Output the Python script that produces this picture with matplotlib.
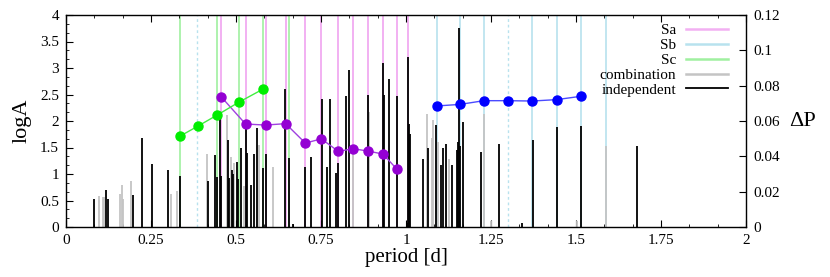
import numpy as np
import matplotlib
matplotlib.use('Agg')
import matplotlib.pyplot as plt
from matplotlib.ticker import MultipleLocator

plt.rcParams['font.family'] = ['Liberation Serif', 'DejaVu Serif']
plt.rcParams['mathtext.fontset'] = 'stix'

# independent frequencies: period [d], logA
ind_period = [0.081, 0.117, 0.124, 0.197, 0.223, 0.253, 0.299, 0.336, 0.417, 0.438,
              0.443, 0.454, 0.457, 0.477, 0.479, 0.487, 0.490, 0.504, 0.507, 0.515,
              0.528, 0.531, 0.544, 0.553, 0.562, 0.578, 0.588, 0.645, 0.657, 0.669,
              0.704, 0.720, 0.752, 0.769, 0.776, 0.794, 0.801, 0.824, 0.833, 0.889,
              0.931, 0.934, 0.950, 0.973, 1.002, 1.006, 1.010, 1.013, 1.051, 1.066,
              1.088, 1.102, 1.110, 1.118, 1.135, 1.149, 1.152, 1.157, 1.160, 1.167,
              1.220, 1.273, 1.340, 1.373, 1.443, 1.515, 1.680]
ind_logA = [0.52, 0.70, 0.53, 0.60, 1.67, 1.19, 1.08, 0.97, 0.86, 1.35,
            0.95, 2.11, 0.96, 1.64, 0.92, 1.07, 1.00, 1.23, 0.90, 1.50,
            1.85, 1.40, 0.79, 1.38, 1.86, 1.11, 1.38, 2.60, 1.31, 0.05,
            1.14, 1.33, 2.42, 1.13, 2.41, 1.01, 1.20, 2.48, 2.96, 2.50,
            3.10, 2.50, 2.80, 2.47, 0.08, 3.21, 1.94, 1.75, 1.28, 1.50,
            1.92, 1.17, 1.50, 1.57, 1.17, 1.45, 1.61, 3.75, 1.52, 1.99,
            1.41, 1.56, 0.07, 1.65, 1.89, 1.91, 1.52]

# combination frequencies
comb_period = [0.096, 0.108, 0.112, 0.160, 0.164, 0.168, 0.190, 0.309, 0.326, 0.414,
               0.473, 0.485, 0.495, 0.523, 0.568, 0.610, 0.845, 0.892, 1.061, 1.075,
               1.080, 1.093, 1.125, 1.229, 1.250, 1.502, 1.588]
comb_logA = [0.58, 0.56, 0.56, 0.62, 0.79, 0.52, 0.87, 0.62, 0.68, 1.38,
             2.11, 1.33, 1.20, 0.78, 1.55, 1.14, 1.50, 2.17, 2.13, 1.67,
             2.02, 1.60, 1.28, 2.14, 0.12, 0.12, 1.53]

# period spacing sequences: period [d], dP [d]
sa_period = [0.456, 0.528, 0.587, 0.646, 0.704, 0.751, 0.801, 0.844, 0.888, 0.932, 0.973]
sa_dp = [0.0738, 0.0583, 0.0577, 0.0585, 0.0475, 0.0499, 0.0428, 0.0443, 0.0430, 0.0413, 0.0328]
sa_lines = [0.456, 0.528, 0.587, 0.646, 0.704, 0.751, 0.801, 0.844, 0.888, 0.932, 0.973, 1.006]

sb_period = [1.090, 1.159, 1.229, 1.301, 1.371, 1.443, 1.515]
sb_dp = [0.0685, 0.0694, 0.0715, 0.0715, 0.0713, 0.0721, 0.0740]
sb_lines = [1.090, 1.159, 1.229, 1.371, 1.443, 1.515, 1.587]
sb_dashed = [0.386, 1.301]

sc_period = [0.336, 0.387, 0.445, 0.508, 0.578]
sc_dp = [0.0515, 0.0570, 0.0634, 0.0706, 0.0779]
sc_lines = [0.336, 0.445, 0.508, 0.578, 0.657]

c_sa = '#f2b0f2'
c_sb = '#b8e2ee'
c_sc = '#a0f0a0'
c_comb = '#c4c4c4'

fig = plt.figure(figsize=(8.3, 2.77), dpi=100)
ax = fig.add_axes([66/830, 1-227/277, 680/830, 212/277])

# mode lines
ax.vlines(sa_lines, 0, 4, color=c_sa, lw=1.4, zorder=1)
ax.vlines(sb_lines, 0, 4, color=c_sb, lw=1.2, zorder=1)
ax.vlines(sb_dashed, 0, 4, color=c_sb, lw=1.0, linestyles=(0, (2, 2)), zorder=1)
ax.vlines(sc_lines, 0, 4, color=c_sc, lw=1.2, zorder=1)

# spikes
ax.vlines(comb_period, 0, comb_logA, color=c_comb, lw=1.3, zorder=2)
ax.vlines(ind_period, 0, ind_logA, color='black', lw=1.3, zorder=3)

ax.set_xlim(0, 2)
ax.set_ylim(0, 4)
ax.xaxis.set_major_locator(MultipleLocator(0.25))
ax.xaxis.set_minor_locator(MultipleLocator(0.25/3))
ax.yaxis.set_major_locator(MultipleLocator(0.5))
ax.yaxis.set_minor_locator(MultipleLocator(0.5/3))
ax.set_xticks([0, 0.25, 0.5, 0.75, 1, 1.25, 1.5, 1.75, 2])
ax.set_xticklabels(['0', '0.25', '0.5', '0.75', '1', '1.25', '1.5', '1.75', '2'])
ax.set_yticks([0, 0.5, 1, 1.5, 2, 2.5, 3, 3.5, 4])
ax.set_yticklabels(['0', '0.5', '1', '1.5', '2', '2.5', '3', '3.5', '4'])
ax.tick_params(which='both', direction='in', top=True, right=False, labelsize=11, pad=5)
ax.tick_params(which='major', length=5, width=0.8)
ax.tick_params(which='minor', length=2.5, width=0.6)
for s in ax.spines.values():
    s.set_linewidth(1.0)
    s.set_color('#333333')
ax.set_xlabel('period [d]', fontsize=15, labelpad=1)
ax.set_ylabel('logA', fontsize=16, labelpad=6)

# legend handles
ax.plot([], [], color=c_sa, lw=1.8, label='Sa')
ax.plot([], [], color=c_sb, lw=1.8, label='Sb')
ax.plot([], [], color=c_sc, lw=1.8, label='Sc')
ax.plot([], [], color=c_comb, lw=1.8, label='combination')
ax.plot([], [], color='black', lw=1.3, label='independent')
ax.legend(loc='upper right', bbox_to_anchor=(0.974, 0.96), frameon=False,
          markerfirst=False, fontsize=11, handlelength=2.8, handletextpad=0.6,
          labelspacing=0.08, borderaxespad=0, borderpad=0)

# period spacings on right axis
ax2 = ax.twinx()
ax2.set_ylim(0, 0.12)
ax2.plot(sa_period, sa_dp, color='#a040e0', lw=1, marker='o', ms=6.5,
         mfc='#9400d3', mec='#9400d3', zorder=5)
ax2.plot(sb_period, sb_dp, color='#4a4aff', lw=1, marker='o', ms=6.5,
         mfc='#0000ff', mec='#0000ff', zorder=5)
ax2.plot(sc_period, sc_dp, color='#40ee40', lw=1, marker='o', ms=6.5,
         mfc='#00ee00', mec='#00ee00', zorder=5)
ax2.set_yticks([0, 0.02, 0.04, 0.06, 0.08, 0.1, 0.12])
ax2.set_yticklabels(['0', '0.02', '0.04', '0.06', '0.08', '0.1', '0.12'])
ax2.tick_params(direction='in', length=5, width=0.8, labelsize=11, pad=5)
ax2.set_ylabel('ΔP', fontsize=16, rotation=0, va='center', ha='left')
ax2.yaxis.set_label_coords(1.063, 0.5)

fig.savefig('out.png', dpi=100)
